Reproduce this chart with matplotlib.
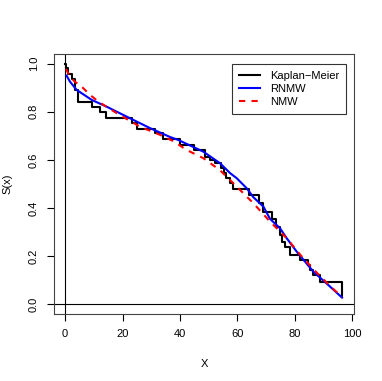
import matplotlib
matplotlib.use("Agg")
from matplotlib import pyplot as plt

# Kaplan-Meier step points (time, survival after the drop)
km_t = [0.0, 0.3, 1.1, 2.3, 3.3, 4.6, 9.3, 12.2, 14.3, 23.2, 24.9, 31.3, 34.2,
        40.0, 44.8, 48.7, 50.5, 52.2, 54.3, 55.5, 56.2, 57.4, 58.4, 64.0,
        67.7, 69.1, 72.0, 73.5, 74.9, 75.5, 76.6, 78.4, 81.8, 84.7, 85.5,
        86.5, 88.8, 96.5]
km_s = [1.0, 0.98, 0.957, 0.935, 0.89, 0.842, 0.821, 0.798, 0.773, 0.752,
        0.729, 0.711, 0.688, 0.662, 0.641, 0.614, 0.60, 0.586, 0.568, 0.545,
        0.524, 0.503, 0.478, 0.455, 0.42, 0.385, 0.355, 0.323, 0.29, 0.26,
        0.24, 0.205, 0.184, 0.163, 0.143, 0.122, 0.094, 0.03]

# RNMW fitted curve
rnmw_x = [0.5, 1.7, 4.0, 9.3, 14.5, 22.6, 29.6, 36.6, 39.4, 48.2, 54.0,
          57.5, 59.8, 63.3, 65.6, 69.1, 71.4, 74.9, 77.2, 80.7, 86.5, 92.3, 96.5]
rnmw_y = [0.95, 0.925, 0.891, 0.849, 0.821, 0.773, 0.732, 0.695, 0.683, 0.634,
          0.586, 0.545, 0.524, 0.482, 0.445, 0.406, 0.355, 0.316, 0.275, 0.219,
          0.136, 0.074, 0.028]

# NMW fitted curve
nmw_x = [0.3, 1.7, 3.4, 5.8, 8.7, 11.6, 18.0, 26.1, 33.1, 37.7, 42.4, 48.2,
         54.0, 59.8, 65.6, 71.4, 77.2, 82.0, 87.0, 92.0, 96.5]
nmw_y = [0.978, 0.946, 0.925, 0.904, 0.87, 0.842, 0.794, 0.738, 0.704, 0.678,
         0.641, 0.607, 0.557, 0.489, 0.42, 0.344, 0.275, 0.205, 0.14, 0.08, 0.03]

xticks = [0, 20, 40, 60, 80, 100]
yticks = [0.0, 0.2, 0.4, 0.6, 0.8, 1.0]

plt.rcParams['font.family'] = ['Liberation Sans', 'DejaVu Sans']

fig = plt.figure(figsize=(3.82, 3.81), dpi=100)
ax = fig.add_axes([0.1414, 0.1759, 0.7853, 0.6824])

ax.axvline(0, color="black", lw=0.8)
ax.axhline(0, color="black", lw=0.8)

ax.step(km_t, km_s, where="post", color="black", lw=1.5, label="Kaplan\u2212Meier")
ax.plot(rnmw_x, rnmw_y, color="blue", lw=1.5, label="RNMW")
ax.plot(nmw_x, nmw_y, color="red", lw=1.5, ls=(0, (3, 3)), label="NMW")

ax.set_xlim(-3.87, 100.67)
ax.set_ylim(-0.04, 1.04)
ax.set_xticks(xticks)
ax.set_yticks(yticks)
ax.set_yticklabels(["%.1f" % v for v in yticks], rotation=90, va="center")
ax.tick_params(labelsize=8, length=5, width=0.8, pad=6)
for sp in ax.spines.values():
    sp.set_color("#444444")
    sp.set_linewidth(0.8)

ax.set_xlabel("X", fontsize=8, labelpad=14)
ax.set_ylabel("S(x)", fontsize=8, labelpad=12)

leg = ax.legend(loc="upper right", bbox_to_anchor=(0.973, 0.9615), borderaxespad=0,
                fontsize=8, frameon=True, fancybox=False, edgecolor="black",
                handlelength=1.9, handletextpad=0.9, borderpad=0.6,
                labelspacing=0.3)
leg.get_frame().set_linewidth(0.8)

fig.savefig("out.png", dpi=100)
